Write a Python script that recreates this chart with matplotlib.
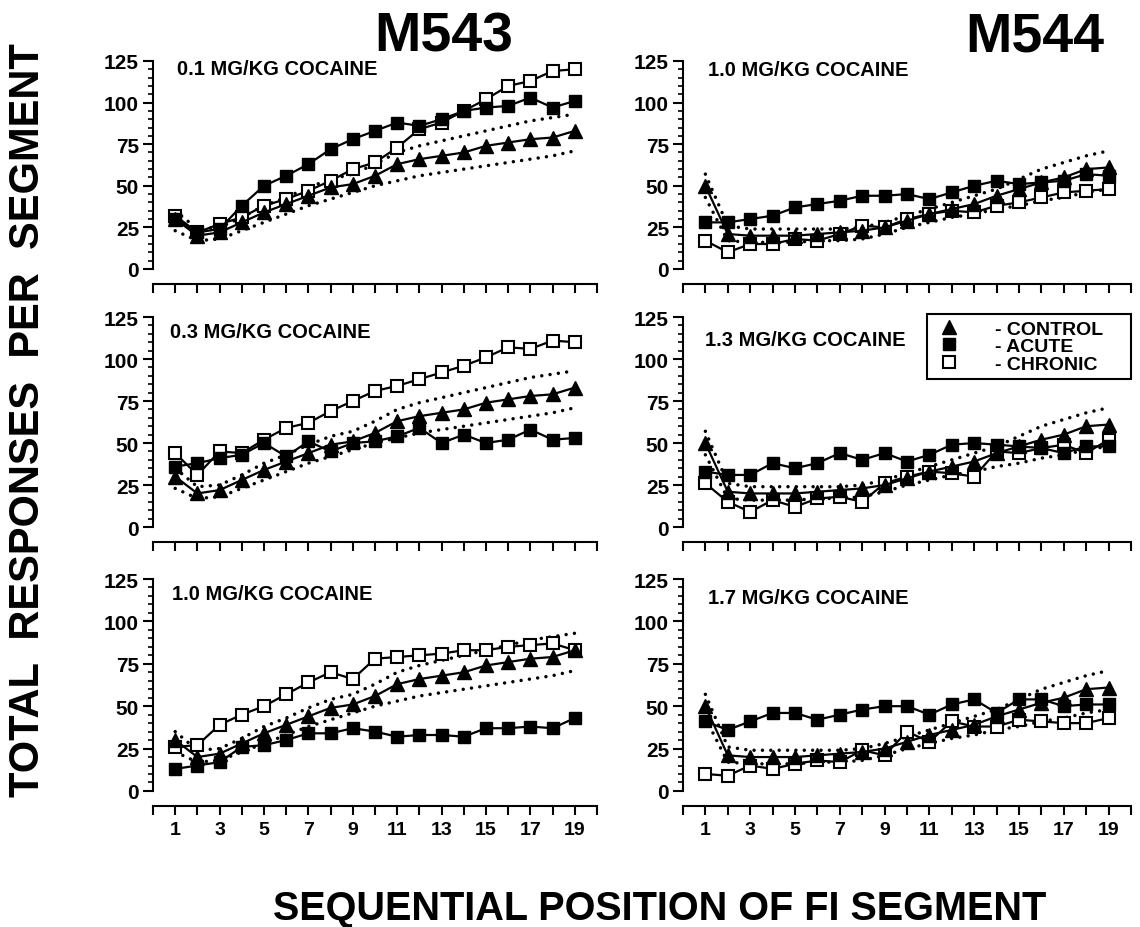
import matplotlib
matplotlib.use("Agg")
import matplotlib.pyplot as plt
from matplotlib.lines import Line2D

plt.rcParams['font.family'] = ['Liberation Sans', 'DejaVu Sans']
plt.rcParams['font.weight'] = 'bold'

# segment positions 1..19
segments = list(range(1, 20))

# M543 control curve and its dotted range
ctrl_m543 = [30, 20, 22, 28, 34, 39, 44, 49, 51, 56, 63, 66, 68, 70, 74, 76, 78, 79, 83]
upper_m543 = [35, 24, 25, 31, 38, 43, 49, 54, 57, 63, 70, 74, 77, 80, 83, 86, 89, 91, 93]
lower_m543 = [23, 17, 18, 23, 28, 33, 38, 42, 46, 50, 53, 56, 58, 60, 62, 64, 66, 68, 71]

# M544 control curve and its dotted range
ctrl_m544 = [50, 21, 20, 20, 20, 21, 22, 23, 25, 29, 33, 36, 39, 44, 48, 52, 55, 60, 61]
upper_m544 = [57, 26, 24, 24, 24, 24, 24, 25, 28, 32, 36, 40, 44, 48, 54, 60, 64, 68, 71]
lower_m544 = [43, 17, 16, 16, 16, 17, 17, 18, 21, 25, 28, 31, 33, 36, 38, 41, 43, 46, 48]

# M543 doses
acute_543_01 = [30, 22, 24, 38, 50, 56, 63, 72, 78, 83, 88, 86, 90, 95, 97, 98, 103, 97, 101]
chronic_543_01 = [32, 22, 27, 31, 38, 42, 47, 53, 60, 64, 73, 84, 88, 95, 102, 110, 113, 119, 120]
acute_543_03 = [36, 38, 41, 43, 50, 42, 51, 45, 50, 51, 54, 59, 50, 55, 50, 52, 58, 52, 53]
chronic_543_03 = [44, 31, 45, 44, 52, 59, 62, 69, 75, 81, 84, 88, 92, 96, 101, 107, 106, 111, 110]
acute_543_10 = [13, 15, 17, 26, 27, 30, 34, 34, 37, 35, 32, 33, 33, 32, 37, 37, 38, 37, 43]
chronic_543_10 = [26, 27, 39, 45, 50, 57, 64, 70, 66, 78, 79, 80, 81, 83, 83, 85, 86, 87, 83]

# M544 doses
acute_544_10 = [28, 28, 30, 32, 37, 39, 41, 44, 44, 45, 42, 46, 50, 53, 51, 52, 53, 57, 56]
chronic_544_10 = [17, 10, 15, 15, 18, 17, 21, 26, 25, 30, 33, 35, 34, 38, 40, 43, 46, 47, 48]
acute_544_13 = [33, 31, 31, 38, 35, 38, 44, 40, 44, 39, 43, 49, 50, 49, 48, 47, 44, 48, 48]
chronic_544_13 = [26, 15, 9, 16, 12, 17, 18, 15, 26, 30, 33, 32, 30, 45, 44, 47, 49, 44, 52]
acute_544_17 = [41, 36, 41, 46, 46, 42, 45, 48, 50, 50, 45, 51, 54, 46, 54, 54, 50, 51, 51]
chronic_544_17 = [10, 9, 15, 13, 16, 18, 17, 24, 21, 35, 29, 41, 38, 38, 42, 41, 40, 40, 43]

dose_labels = ["0.1 MG/KG COCAINE", "0.3 MG/KG COCAINE", "1.0 MG/KG COCAINE",
               "1.0 MG/KG COCAINE", "1.3 MG/KG COCAINE", "1.7 MG/KG COCAINE"]
legend_labels = ["- CONTROL", "- ACUTE", "- CHRONIC"]

fig = plt.figure(figsize=(11.4, 9.28), dpi=100)

col_left = [0.1342, 0.5991]
col_width = [0.3895, 0.393]
row_bottom = [0.7091, 0.4310, 0.1466]
row_height = [0.2241, 0.2263, 0.2284]
title_pos = [(0.055, 0.965), (0.038, 0.93), (0.043, 0.93),
             (0.056, 0.96), (0.049, 0.895), (0.056, 0.915)]

panels = [
    (0, 0, ctrl_m543, upper_m543, lower_m543, acute_543_01, chronic_543_01),
    (0, 1, ctrl_m543, upper_m543, lower_m543, acute_543_03, chronic_543_03),
    (0, 2, ctrl_m543, upper_m543, lower_m543, acute_543_10, chronic_543_10),
    (1, 0, ctrl_m544, upper_m544, lower_m544, acute_544_10, chronic_544_10),
    (1, 1, ctrl_m544, upper_m544, lower_m544, acute_544_13, chronic_544_13),
    (1, 2, ctrl_m544, upper_m544, lower_m544, acute_544_17, chronic_544_17),
]

for i, (c, r, ctrl, up, low, acute, chronic) in enumerate(panels):
    ax = fig.add_axes([col_left[c], row_bottom[r], col_width[c], row_height[r]])
    dot = dict(color='black', lw=2.5, linestyle=(0, (0.01, 2.4)),
               dash_capstyle='round', clip_on=False)
    ax.plot(segments, up, **dot)
    ax.plot(segments, low, **dot)
    ax.plot(segments, chronic, color='black', lw=1.6, marker='s', ms=8.5,
            mfc='white', mec='black', mew=1.5, clip_on=False)
    ax.plot(segments, acute, color='black', lw=1.6, marker='s', ms=8.5,
            mfc='black', mec='black', clip_on=False)
    ax.plot(segments, ctrl, color='black', lw=1.6, marker='^', ms=9.5,
            mfc='black', mec='black', clip_on=False)

    ax.set_xlim(0, 20)
    ax.set_ylim(0, 125)
    ax.spines['top'].set_visible(False)
    ax.spines['right'].set_visible(False)
    ax.spines['bottom'].set_position(('outward', 11))
    ax.spines['left'].set_linewidth(1.5)
    ax.spines['bottom'].set_linewidth(1.5)

    ax.set_yticks([0, 25, 50, 75, 100, 125])
    ax.set_yticks(range(0, 126, 5), minor=True)
    ax.tick_params(axis='y', which='major', direction='out', length=7, width=1.5,
                   labelsize=15, pad=3)
    ax.tick_params(axis='y', which='minor', direction='out', length=3.5, width=1.2)
    ax.set_xticks(range(1, 20, 2))
    ax.set_xticks(range(0, 21, 2), minor=True)
    ax.tick_params(axis='x', which='both', direction='out', length=6.5, width=1.5,
                   labelsize=14, pad=4)
    if r != 2:
        ax.set_xticklabels([])
    for lab in ax.get_xticklabels() + ax.get_yticklabels():
        lab.set_fontweight('bold')

    tx, ty = title_pos[i]
    ax.text(tx, ty, dose_labels[i], transform=ax.transAxes, fontsize=14.5,
            fontweight='bold', va='center', ha='left')

    if c == 1 and r == 1:
        handles = [
            Line2D([], [], ls='none', marker='^', ms=9.5, mfc='black', mec='black'),
            Line2D([], [], ls='none', marker='s', ms=8.5, mfc='black', mec='black'),
            Line2D([], [], ls='none', marker='s', ms=8.5, mfc='white', mec='black', mew=1.5),
        ]
        leg = ax.legend(handles, legend_labels, loc='upper left',
                        bbox_to_anchor=(0.545, 1.014, 0.455, 0), mode='expand',
                        prop={'size': 14, 'weight': 'bold'}, frameon=True,
                        fancybox=False, borderpad=0.3, labelspacing=0.0,
                        handlelength=1.6, handletextpad=1.6, borderaxespad=0)
        leg.get_frame().set_edgecolor('black')
        leg.get_frame().set_linewidth(1.5)
        leg.get_frame().set_alpha(1)

fig.text(0.389, 0.96, "M543", fontsize=40, fontweight='bold', ha='center', va='center')
fig.text(0.908, 0.96, "M544", fontsize=40, fontweight='bold', ha='center', va='center')
fig.text(0.0245, 0.547, "TOTAL  RESPONSES  PER  SEGMENT", fontsize=30, fontweight='bold',
         rotation=90, ha='center', va='center')
fig.text(0.579, 0.0205, "SEQUENTIAL POSITION OF FI SEGMENT", fontsize=28.5,
         fontweight='bold', ha='center', va='center')

fig.savefig("out.png", dpi=100)
